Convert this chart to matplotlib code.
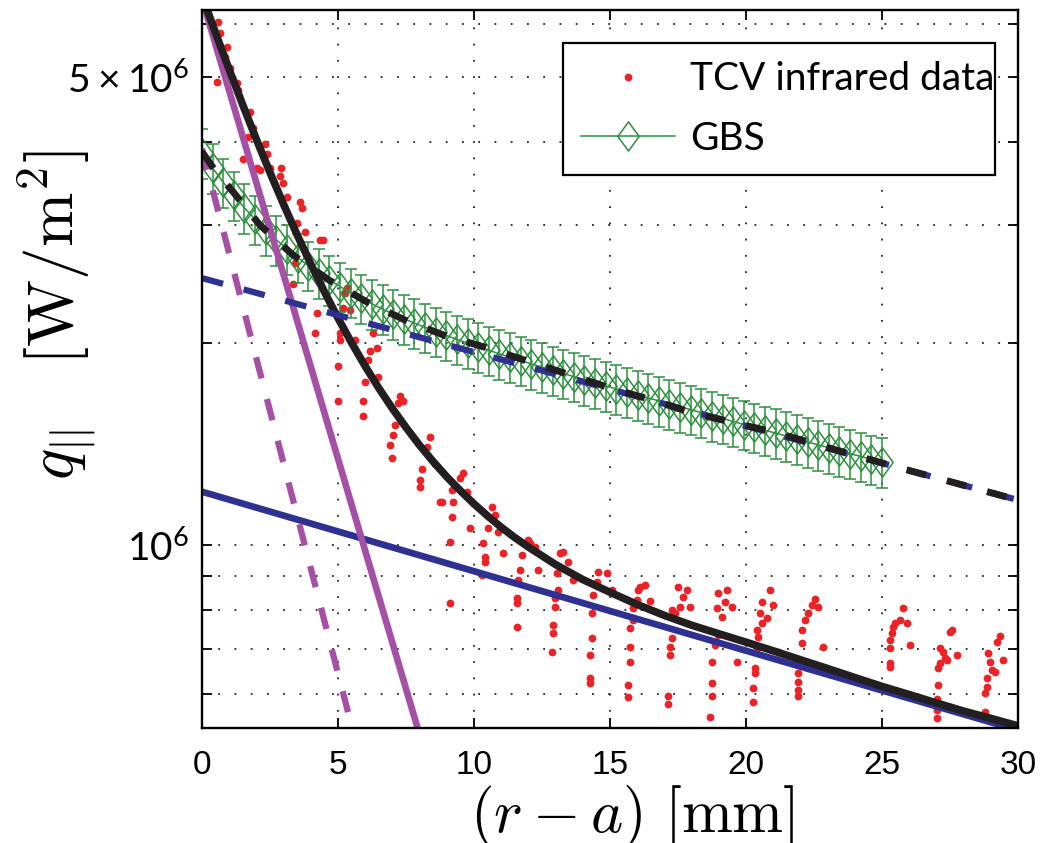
import numpy as np
import matplotlib
matplotlib.use('Agg')
import matplotlib.pyplot as plt
from matplotlib.lines import Line2D
from matplotlib.path import Path
from matplotlib.ticker import NullFormatter

# heat flux values are in units of 1e6 W/m^2, positions in mm
tcv_x = [0.59, 0.66, 0.92, 0.85, 1.03, 1.29, 1.32, 0.55, 1.76, 1.88, 1.69, 2.32, 2.39, 1.51,
         2.02, 2.13, 2.50, 2.90, 2.87, 2.98, 3.13, 3.60, 3.68, 3.49, 3.79, 4.34, 4.45, 3.42,
         3.35, 4.23, 4.15, 5.18, 5.44, 5.33, 5.26, 5.07, 5.07, 5.63, 6.29, 6.43, 6.18, 6.10,
         5.00, 5.99, 6.47, 5.00, 5.92, 5.92, 7.28, 7.21, 7.39, 7.10, 7.02, 6.91, 6.99, 8.27,
         8.38, 8.09, 8.01, 8.01, 8.57, 8.75, 9.19, 9.49, 9.60, 9.74, 9.23, 9.19, 9.12, 9.12,
         8.82, 9.85, 10.66, 10.77, 10.51, 10.88, 10.33, 10.40, 10.40, 11.07, 10.29, 11.76,
         11.69, 11.62, 11.58, 11.58, 11.58, 11.99, 12.06, 12.24, 12.35, 13.16, 13.27, 13.46,
         13.05, 13.09, 12.98, 12.98, 12.90, 12.90, 12.87, 13.64, 14.56, 14.89, 14.52, 14.38,
         14.34, 14.34, 14.26, 14.26, 14.26, 15.07,
         15.74, 15.74, 15.74, 15.66, 15.66, 16.03, 16.10, 16.29, 16.47, 15.99, 15.85, 15.85,
         17.50, 17.83, 17.68, 17.57, 17.94, 17.28, 17.39, 17.28, 17.21, 17.21, 17.13, 17.13,
         18.97, 19.30, 19.23, 18.93, 19.49, 19.12, 18.97, 18.86, 18.75, 18.75, 18.75, 18.68, 19.67,
         20.88, 20.59, 20.99, 20.51, 20.77, 20.59, 20.40, 20.44, 20.40, 20.33, 20.33, 20.26, 20.26, 21.18,
         22.54, 22.43, 22.28, 22.17, 22.06, 22.06, 21.91, 21.91, 21.91, 21.91, 22.65, 22.83,
         25.77, 25.66, 25.92, 25.48, 25.40, 25.37, 25.29, 25.29, 26.03, 25.29, 25.29,
         27.57, 27.50, 27.13, 27.24, 27.32, 27.39, 27.76, 27.13, 27.06, 27.06, 27.02, 27.02, 27.02,
         29.34, 29.23, 28.90, 28.97, 29.04, 29.15, 28.86, 28.86, 28.79, 28.79, 29.45]
tcv_q = [6.04, 5.81, 5.54, 5.36, 5.16, 4.89, 4.78, 4.91, 4.43, 4.20, 4.06, 3.97, 3.83, 3.77,
         3.66, 3.63, 3.66, 3.65, 3.56, 3.47, 3.31, 3.25, 3.19, 3.03, 2.93, 2.85, 2.85, 2.64,
         2.45, 2.22, 2.07, 2.26, 2.24, 2.42, 2.38, 2.07, 2.02, 2.02, 2.07, 1.97, 1.95, 1.89,
         1.85, 1.75, 1.78, 1.64, 1.64, 1.56, 1.67, 1.63, 1.64, 1.51, 1.46, 1.41, 1.35, 1.40,
         1.45, 1.30, 1.25, 1.22, 1.32, 1.16, 1.21, 1.26, 1.28, 1.20, 1.16, 1.10, 1.01, 0.820,
         1.16, 1.06, 1.14, 1.11, 1.06, 1.045, 1.007, 0.960, 0.943, 0.973, 0.902, 0.967,
         0.918, 0.888, 0.833, 0.819, 0.754, 1.018, 1.007, 0.993, 0.918, 0.973, 0.977, 0.944,
         0.909, 0.857, 0.833, 0.809, 0.760, 0.738, 0.692, 0.888, 0.912, 0.909, 0.881, 0.842,
         0.791, 0.726, 0.685, 0.633, 0.622, 0.857,
         0.751, 0.704, 0.669, 0.618, 0.592, 0.857, 0.866, 0.872, 0.825, 0.828, 0.805, 0.772,
         0.866, 0.857, 0.836, 0.809, 0.809, 0.800, 0.792, 0.726, 0.704, 0.685, 0.594, 0.578,
         0.848, 0.857, 0.822, 0.806, 0.809, 0.781, 0.733, 0.709, 0.669, 0.622, 0.594, 0.554, 0.669,
         0.857, 0.822, 0.814, 0.792, 0.778, 0.765, 0.746, 0.728, 0.702, 0.656, 0.644, 0.612, 0.582, 0.692,
         0.831, 0.814, 0.792, 0.773, 0.746, 0.714, 0.644, 0.624, 0.607, 0.594, 0.809, 0.704,
         0.806, 0.773, 0.765, 0.765, 0.754, 0.738, 0.722, 0.702, 0.709, 0.667, 0.658,
         0.746, 0.741, 0.702, 0.692, 0.678, 0.673, 0.685, 0.667, 0.656, 0.618, 0.588, 0.568, 0.552,
         0.731, 0.717, 0.690, 0.669, 0.651, 0.647, 0.633, 0.614, 0.602, 0.564, 0.673]

# GBS simulation profile, 65 grid points from 0 to 25 mm
gbs_x = np.linspace(0, 25, 65)
gbs_q = [3.850, 3.654, 3.479, 3.325, 3.187, 3.064, 2.954, 2.855, 2.766, 2.686, 2.613, 2.547,
         2.487, 2.431, 2.381, 2.334, 2.291, 2.250, 2.213, 2.177, 2.144, 2.113, 2.083, 2.055,
         2.027, 2.002, 1.977, 1.953, 1.929, 1.907, 1.885, 1.864, 1.843, 1.823, 1.803, 1.784,
         1.765, 1.746, 1.728, 1.710, 1.692, 1.675, 1.658, 1.641, 1.624, 1.608, 1.592, 1.576,
         1.560, 1.544, 1.529, 1.513, 1.498, 1.483, 1.469, 1.454, 1.440, 1.425, 1.411, 1.397,
         1.383, 1.369, 1.356, 1.342, 1.329]
gbs_err = [0.327, 0.311, 0.296, 0.283, 0.271, 0.260, 0.251, 0.243, 0.235, 0.228, 0.222, 0.216,
           0.211, 0.207, 0.202, 0.198, 0.195, 0.191, 0.188, 0.185, 0.182, 0.180, 0.177, 0.175,
           0.172, 0.170, 0.168, 0.166, 0.164, 0.162, 0.160, 0.158, 0.157, 0.155, 0.153, 0.152,
           0.150, 0.148, 0.147, 0.145, 0.144, 0.142, 0.141, 0.139, 0.138, 0.137, 0.135, 0.134,
           0.133, 0.131, 0.130, 0.129, 0.127, 0.126, 0.125, 0.124, 0.122, 0.121, 0.120, 0.119,
           0.118, 0.116, 0.115, 0.114, 0.113]

# fit curves
fit_exp_x = [0.0, 0.5, 1.0, 1.5, 2.0, 2.5, 3.0, 3.5, 4.0, 4.5, 5.0, 5.5, 6.0, 6.5, 7.0, 7.5,
             8.0, 8.5, 9.0, 9.5, 10.0, 10.5, 11.0, 11.5, 12.0, 13.0, 14.0, 15.0, 16.0, 17.0,
             18.0, 19.0, 20.0, 21.0, 22.0, 23.0, 24.0, 25.0, 26.0, 27.0, 28.0, 29.0, 30.0]
fit_exp_q = [6.611, 5.812, 5.127, 4.538, 4.033, 3.599, 3.225, 2.904, 2.627, 2.388, 2.182, 2.004,
             1.849, 1.715, 1.599, 1.498, 1.409, 1.332, 1.264, 1.205, 1.152, 1.105, 1.063, 1.026,
             0.993, 0.935, 0.888, 0.850, 0.815, 0.785, 0.759, 0.737, 0.716, 0.695, 0.674, 0.654,
             0.634, 0.615, 0.598, 0.581, 0.565, 0.551, 0.537]
fit_gbs_x = [0.0, 0.5, 1.18, 2.13, 3.35, 4.67, 6.07, 7.46, 8.97, 10.34, 15.0, 16.54, 18.05,
             19.6, 21.14, 22.68, 24.23, 25.66, 30.0]
fit_gbs_q = [3.863, 3.613, 3.353, 3.003, 2.709, 2.486, 2.305, 2.167, 2.051, 1.977, 1.716, 1.646,
             1.574, 1.521, 1.470, 1.410, 1.353, 1.303, 1.167]
far_exp_x, far_exp_q = [0.0, 30.0], [1.201, 0.529]
far_gbs_x, far_gbs_q = [0.0, 30.0], [2.503, 1.167]
near_exp_x, near_exp_q = [0.0, 7.94], [6.54, 0.531]
near_gbs_x, near_gbs_q = [0.0, 5.37], [3.907, 0.563]

red = '#ec2227'
green = '#2b8f3c'
navy = '#2e3192'
purple = '#a54fa5'
black = '#231f20'
M = 1e6

diamond = Path([(0, 1), (0.73, 0), (0, -1), (-0.73, 0), (0, 1)],
               [Path.MOVETO, Path.LINETO, Path.LINETO, Path.LINETO, Path.CLOSEPOLY])

fig = plt.figure(figsize=(10.4, 8.43), dpi=100)
ax = fig.add_axes([0.1942, 0.1364, 0.7846, 0.8517])
ax.set_yscale('log')

ax.plot(tcv_x, np.array(tcv_q) * M, 'o', color=red, ms=5.6, mec='none', zorder=3)
ax.errorbar(gbs_x, np.array(gbs_q) * M, yerr=np.array(gbs_err) * M, color=green, lw=1.1,
            marker=diamond, ms=21, mfc='none', mec=green, mew=1.1, capsize=4.3,
            elinewidth=1.1, capthick=1.1, zorder=4)
ax.plot(far_exp_x, np.array(far_exp_q) * M, color=navy, lw=4.8, zorder=5)
ax.plot(near_exp_x, np.array(near_exp_q) * M, color=purple, lw=4.8, zorder=5)
ax.plot(fit_exp_x, np.array(fit_exp_q) * M, color=black, lw=5.5, zorder=6)
ax.plot(far_gbs_x, np.array(far_gbs_q) * M, color=navy, lw=4.5, dashes=(3.5, 3.4), zorder=6)
ax.plot(near_gbs_x, np.array(near_gbs_q) * M, color=purple, lw=4.5, dashes=(3.5, 3.4), zorder=6)
ax.plot(fit_gbs_x, np.array(fit_gbs_q) * M, color=black, lw=5, dashes=(2.9, 3.1), zorder=7)

ax.set_xlim(0, 30)
ax.set_ylim(5.33e5, 6.29e6)

ax.set_xticks(range(0, 31, 5))
ax.set_xticklabels([str(v) for v in range(0, 31, 5)], fontfamily='Liberation Sans', fontsize=24)
ax.set_yticks([1e6, 5e6])
ax.set_yticklabels([r'$\mathregular{10^{6}}$', r'$\mathregular{5\times10^{6}}$'],
                   fontfamily='Lato', fontsize=28)
ax.set_yticks([6e5, 7e5, 8e5, 9e5, 2e6, 3e6, 4e6, 6e6], minor=True)
ax.yaxis.set_minor_formatter(NullFormatter())
ax.tick_params(which='both', direction='in', top=True, right=True, length=7, width=1.3)
ax.tick_params(axis='x', pad=16)
ax.tick_params(axis='y', pad=9)
for s in ax.spines.values():
    s.set_linewidth(1.7)
    s.set_zorder(12)

grid_kw = dict(color='#222222', lw=1.3, ls=(0, (1, 8)))
ax.grid(True, which='major', axis='x', **grid_kw)
ax.grid(True, which='both', axis='y', **grid_kw)

h1 = Line2D([], [], ls='none', marker='o', color=red, ms=5.6, mec='none')
h2 = Line2D([], [], color=green, lw=1.1, marker=diamond, ms=21, mfc='none', mec=green, mew=1.1)
leg = ax.legend([h1, h2], ['TCV infrared data', 'GBS'], loc='upper left',
                bbox_to_anchor=(0.4424, 0.773, 0.5294, 0.181), mode='expand', borderaxespad=0,
                prop={'family': 'Lato', 'size': 28}, frameon=True, fancybox=False, framealpha=1,
                edgecolor='black', handlelength=2.4, handletextpad=0.4, borderpad=0.47,
                labelspacing=0.6, numpoints=1)
leg.get_frame().set_linewidth(1.6)
leg.set_zorder(20)

fig.text(0.6077, 0.0135, r'$(r-a)\ [\mathrm{mm}]$', math_fontfamily='cm', fontsize=44,
         ha='center', va='baseline')
fig.text(0.0548, 0.626, r'$q_{||}\ \ \ [\mathrm{W/m}^2]$', math_fontfamily='cm', fontsize=47,
         rotation=90, ha='center', va='center')

fig.savefig('out.png', dpi=100)
